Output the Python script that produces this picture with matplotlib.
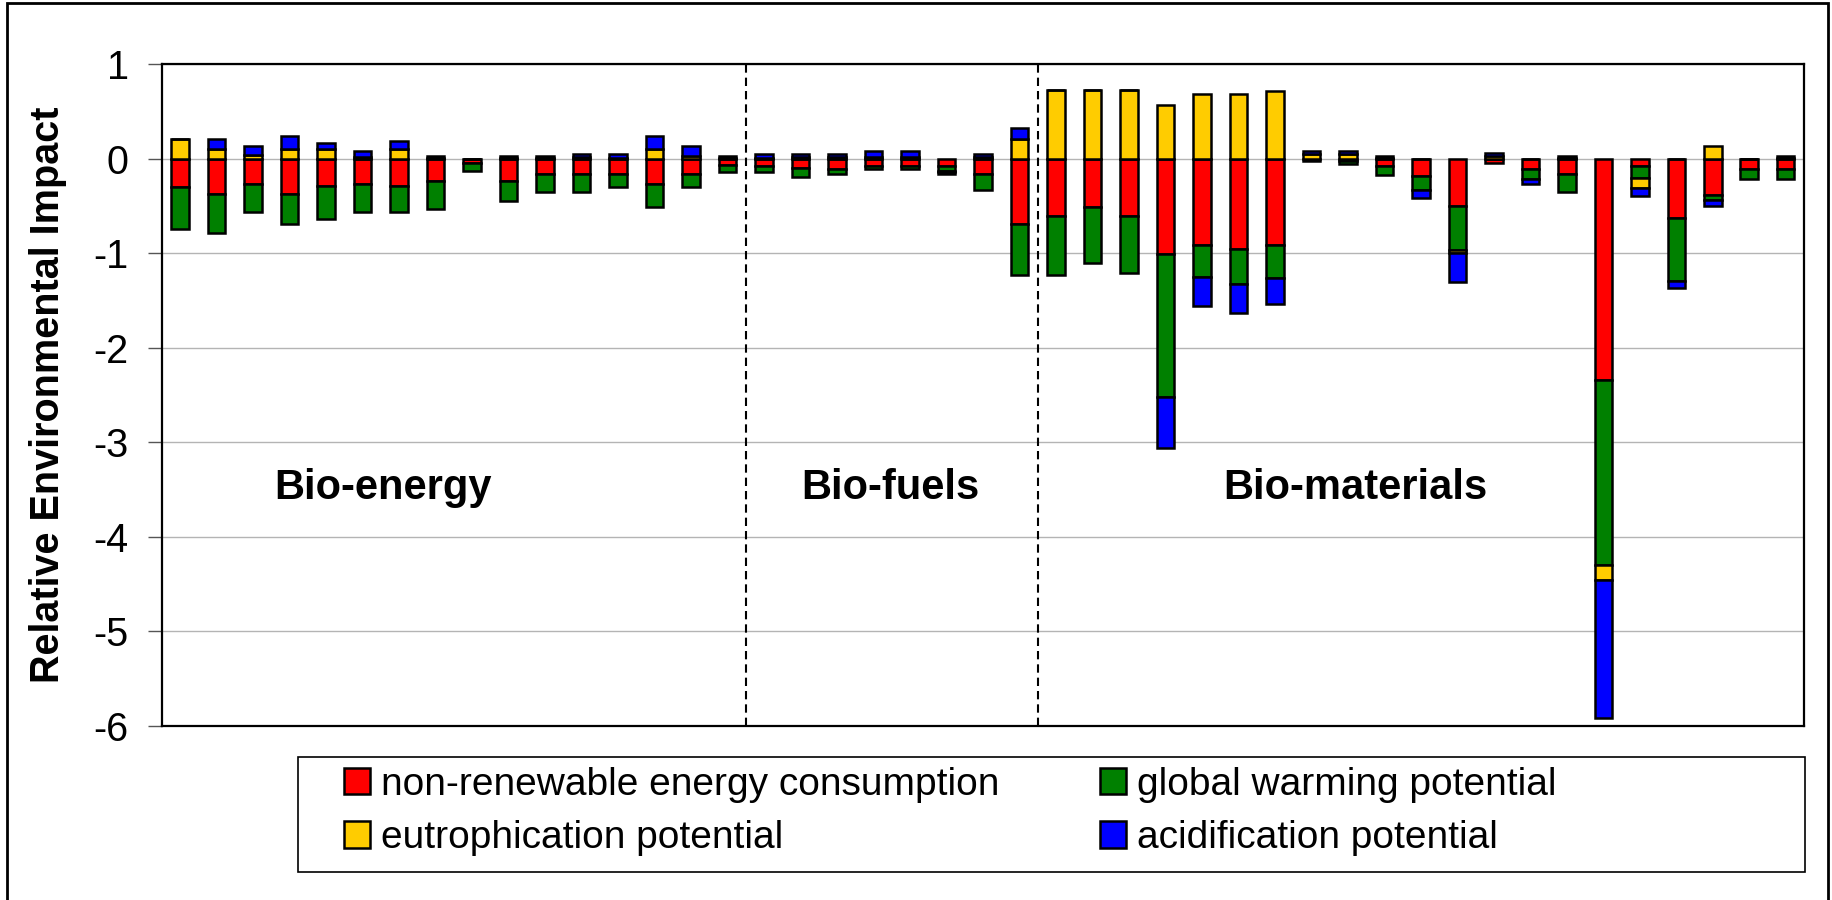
import numpy as np
import matplotlib
matplotlib.use("Agg")
import matplotlib.pyplot as plt
from matplotlib.patches import Patch, Rectangle

plt.rcParams["font.family"] = ["Liberation Sans", "DejaVu Sans"]
plt.rcParams["axes.unicode_minus"] = False

# 45 products: 16 bio-energy, 8 bio-fuels, 21 bio-materials
energy = [-0.30, -0.37, -0.27, -0.37, -0.29, -0.27, -0.29, -0.24, -0.05, -0.24, -0.16, -0.16, -0.16, -0.27, -0.16, -0.07,
          -0.08, -0.10, -0.11, -0.08, -0.08, -0.08, -0.16, -0.69,
          -0.61, -0.51, -0.61, -1.01, -0.91, -0.96, -0.91, -0.03, -0.03, -0.08, -0.18, -0.50, -0.05, -0.11, -0.16,
          -2.34, -0.08, -0.63, -0.39, -0.11, -0.11]
warming = [-0.44, -0.42, -0.29, -0.32, -0.35, -0.29, -0.28, -0.29, -0.08, -0.21, -0.19, -0.19, -0.14, -0.24, -0.14, -0.07,
           -0.06, -0.09, -0.05, -0.03, -0.03, -0.05, -0.17, -0.54,
           -0.62, -0.59, -0.60, -1.51, -0.34, -0.37, -0.35, 0.00, -0.03, -0.09, -0.15, -0.47, 0.00, -0.11, -0.19,
           -1.96, -0.13, -0.66, -0.05, -0.11, -0.11]
eutro = [0.21, 0.10, 0.04, 0.10, 0.10, 0.02, 0.10, 0.01, 0.00, 0.01, 0.01, 0.02, 0.01, 0.10, 0.03, 0.01,
         0.01, 0.02, 0.02, 0.02, 0.02, -0.01, 0.02, 0.21,
         0.73, 0.73, 0.73, 0.57, 0.68, 0.68, 0.71, 0.05, 0.05, 0.01, 0.00, -0.03, 0.03, 0.00, 0.01,
         -0.16, -0.10, 0.00, 0.13, 0.00, 0.01]
acid = [0.00, 0.11, 0.09, 0.14, 0.06, 0.06, 0.09, 0.02, 0.00, 0.02, 0.02, 0.03, 0.04, 0.14, 0.10, 0.02,
        0.04, 0.03, 0.03, 0.06, 0.06, -0.02, 0.03, 0.11,
        0.00, 0.00, 0.00, -0.54, -0.31, -0.30, -0.28, 0.03, 0.03, 0.02, -0.09, -0.30, 0.03, -0.05, 0.02,
        -1.46, -0.09, -0.08, -0.06, 0.00, 0.02]

series = [
    ("non-renewable energy consumption", energy, "#FF0000"),
    ("global warming potential", warming, "#008000"),
    ("eutrophication potential", eutro, "#FFCC00"),
    ("acidification potential", acid, "#0000FF"),
]
groups = ["Bio-energy", "Bio-fuels", "Bio-materials"]
group_sizes = [16, 8, 21]

fig = plt.figure(figsize=(18.32, 9.0), dpi=100)
ax = fig.add_axes([0.0884, 0.1933, 0.8963, 0.7356])

x = np.arange(len(energy))
pos = np.zeros(len(x))
neg = np.zeros(len(x))
for name, vals, col in series:
    v = np.array(vals)
    bottom = np.where(v >= 0, pos, neg)
    ax.bar(x, v, 0.48, bottom=bottom, color=col, edgecolor="black", linewidth=1.8, zorder=3)
    pos = pos + np.where(v >= 0, v, 0)
    neg = neg + np.where(v < 0, v, 0)

ax.set_xlim(-0.5, len(x) - 0.5)
ax.set_ylim(-6, 1)
ax.set_yticks(range(-6, 2))
ax.set_xticks([])
ax.yaxis.grid(True, color="#b4b4b4", linewidth=1.0)
ax.set_axisbelow(True)
ax.tick_params(axis="y", direction="out", length=10, width=1, color="#555555", labelsize=28.5, pad=14)
for s in ax.spines.values():
    s.set_linewidth(1.6)
    s.set_color("black")
ax.set_ylabel("Relative Environmental Impact", fontsize=28.5, fontweight="bold", labelpad=19)

# section dividers and names
edges = np.cumsum(group_sizes)
for e in edges[:-1]:
    ax.axvline(e - 0.5, color="black", linestyle=(0, (4, 2.4)), linewidth=1.5, zorder=4)
label_x = [5.56, 19.45, 32.2]
for g, lx in zip(groups, label_x):
    ax.text(lx, -3.48, g, fontsize=30, fontweight="bold", ha="center", va="center")

# legend in its own box
fig.add_artist(Rectangle((298 / 1832, 1 - 872 / 900), 1507 / 1832, 115 / 900,
                         transform=fig.transFigure, facecolor="white", edgecolor="black", linewidth=1.2))
order = [0, 2, 1, 3]
handles = [Patch(facecolor=series[i][2], edgecolor="black", linewidth=1.8) for i in order]
labels = [series[i][0] for i in order]
fig.legend(handles, labels, loc="upper left", bbox_to_anchor=(344 / 1832, 1 - 767 / 900), ncol=2,
           frameon=False, fontsize=28, handlelength=0.66, handleheight=0.66, handletextpad=0.28,
           columnspacing=2.6, labelspacing=0.44, borderpad=0, borderaxespad=0)

# outer frame
fig.add_artist(Rectangle((7 / 1832, -0.02), 1821 / 1832, 1.02 - 3 / 900, transform=fig.transFigure,
                         facecolor="none", edgecolor="black", linewidth=2))

fig.savefig("out.png", dpi=100)
